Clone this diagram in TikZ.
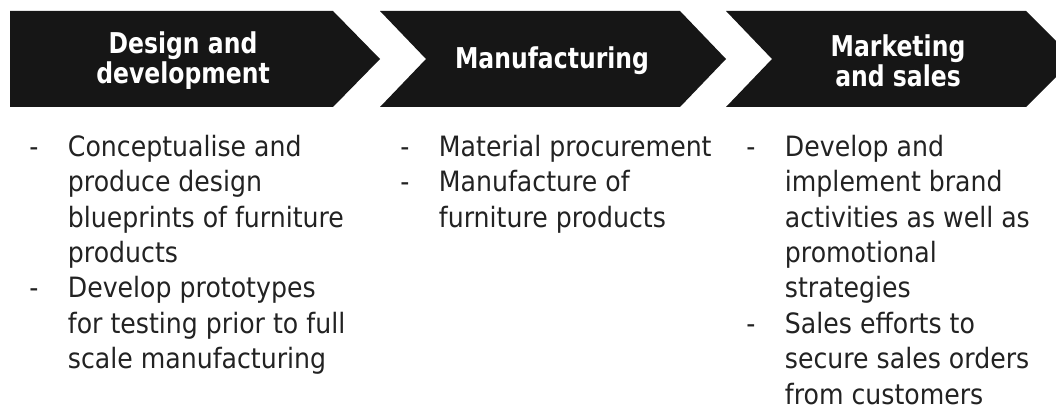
\documentclass[tikz,border=0pt]{standalone}
\usepackage{fontspec}
\setmainfont{DejaVu Sans}
\newfontfamily\bodyfont{DejaVu Sans}[FakeStretch=0.9]
\newfontfamily\headfont{DejaVu Sans Bold}[FakeStretch=0.82]
\definecolor{chevron}{RGB}{22,22,22}
\definecolor{bodytext}{RGB}{34,34,34}

\begin{document}
\begin{tikzpicture}[
            x=0.75pt, y=-0.75pt,
            head/.style = {text=white, align=center, inner sep=0pt, font=\headfont\fontsize{21.5}{22.5}\selectfont},
            items/.style = {anchor=north west, inner sep=0pt, text=bodytext, font=\bodyfont\fontsize{21}{26.6}\selectfont},
        ]
            \useasboundingbox (0,0) rectangle (1056,416);

            % Chevrons along the top
            \fill[chevron] (10,11) -- (333,11) -- (380,59) -- (333,107) -- (10,107) -- cycle;
            \fill[chevron] (380,11) -- (680,11) -- (726,59) -- (680,107) -- (380,107) -- (426,59) -- cycle;
            \fill[chevron] (726,11) -- (1026,11) -- (1074,59) -- (1026,107) -- (726,107) -- (772,59) -- cycle;

            % Stage titles
            \node[head] (design) at (183,61) {Design and\\development};
            \node[head] (manuf) at (552,61) {Manufacturing};
            \node[head] (market) at (898,61) {Marketing\\and sales};

            % Activities under each stage
            \node[items] (designlist) at (29,131) {\begin{tabular}{@{}p{29pt}@{}l@{}}
                - & Conceptualise and\\
                  & produce design\\
                  & blueprints of furniture\\
                  & products\\
                - & Develop prototypes\\
                  & for testing prior to full\\
                  & scale manufacturing
            \end{tabular}};
            \node[items] (manuflist) at (400,131) {\begin{tabular}{@{}p{29pt}@{}l@{}}
                - & Material procurement\\
                - & Manufacture of\\
                  & furniture products
            \end{tabular}};
            \node[items] (marketlist) at (746,131) {\begin{tabular}{@{}p{29pt}@{}l@{}}
                - & Develop and\\
                  & implement brand\\
                  & activities as well as\\
                  & promotional\\
                  & strategies\\
                - & Sales efforts to\\
                  & secure sales orders\\
                  & from customers
            \end{tabular}};
        \end{tikzpicture}
\end{document}
